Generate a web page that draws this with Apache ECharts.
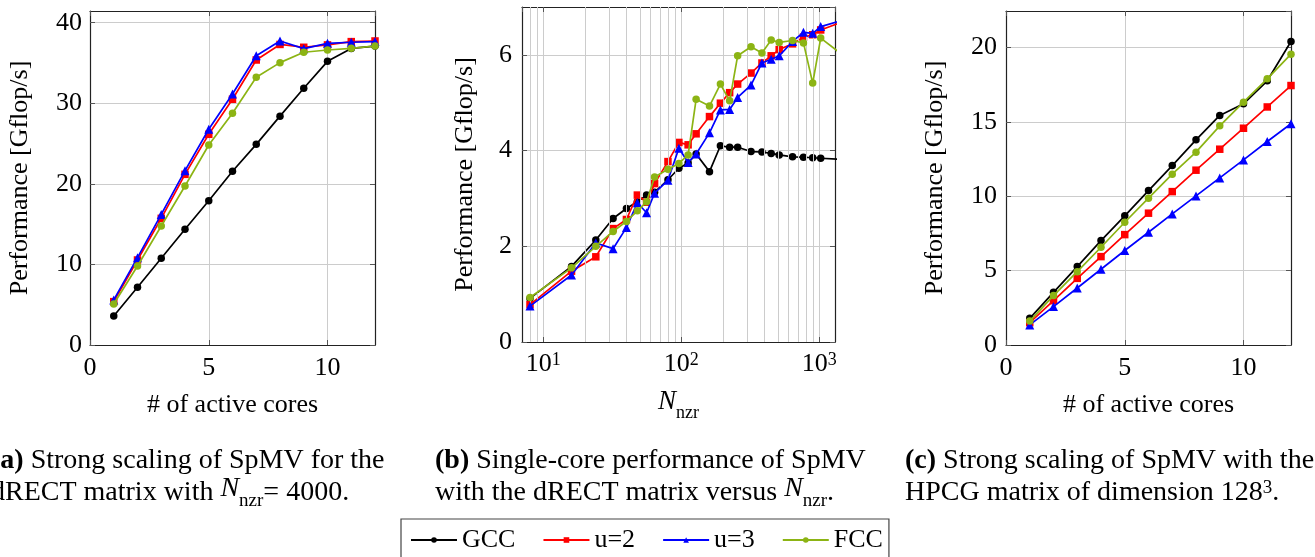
<!DOCTYPE html>
<html><head><meta charset="utf-8">
<script src="https://cdn.jsdelivr.net/npm/echarts@6/dist/echarts.min.js"></script>
<style>html,body{margin:0;padding:0;background:#fff;overflow:hidden}#c{width:1315px;height:557px}</style>
</head><body><div id="c"></div>
<script>
// ---------- data ----------
const coresA = [1, 2, 3, 4, 5, 6, 7, 8, 9, 10, 11, 12];
const gccA = [3.6, 7.16, 10.76, 14.36, 17.9, 21.56, 24.9, 28.4, 31.86, 35.2, 36.8, 37.1];
const u2A  = [5.38, 10.55, 15.72, 21.18, 26.15, 30.5, 35.37, 37.3, 36.95, 37.24, 37.65, 37.73];
const u3A  = [5.59, 10.84, 16.2, 21.64, 26.77, 31.15, 35.9, 37.73, 36.78, 37.44, 37.57, 37.65];
const fccA = [5.09, 9.8, 14.77, 19.73, 24.82, 28.75, 33.22, 35.04, 36.33, 36.61, 36.82, 37.11];

const nnzB = [8, 16, 24, 32, 40, 48, 56, 64, 80, 96, 112, 128, 160, 192, 224, 256, 320, 384, 448, 512, 640, 768, 896, 1024, 1536];
const gccB = [0.91, 1.58, 2.13, 2.58, 2.79, 2.93, 3.07, 3.13, 3.39, 3.63, 3.74, 3.93, 3.56, 4.10, 4.07, 4.07, 3.98, 3.97, 3.94, 3.91, 3.87, 3.86, 3.85, 3.84, 3.81];
const u2B  = [0.78, 1.48, 1.78, 2.37, 2.56, 3.07, 2.92, 3.31, 3.77, 4.17, 4.12, 4.35, 4.71, 4.99, 5.21, 5.39, 5.62, 5.83, 5.98, 6.11, 6.23, 6.37, 6.42, 6.52, 6.71];
const u3B  = [0.75, 1.40, 2.07, 1.95, 2.39, 2.91, 2.70, 3.11, 3.38, 4.05, 3.75, 3.93, 4.37, 4.85, 4.86, 5.11, 5.37, 5.83, 5.91, 5.98, 6.28, 6.47, 6.45, 6.59, 6.74];
const fccB = [0.93, 1.55, 2.00, 2.31, 2.52, 2.74, 2.93, 3.45, 3.61, 3.73, 3.91, 5.07, 4.93, 5.39, 5.04, 5.98, 6.17, 6.04, 6.31, 6.26, 6.30, 6.25, 5.41, 6.35, 5.96];

const coresC = [1, 2, 3, 4, 5, 6, 7, 8, 9, 10, 11, 12];
const gccC = [1.79, 3.54, 5.27, 7.02, 8.68, 10.38, 12.06, 13.79, 15.43, 16.21, 17.76, 20.4];
const u2C  = [1.5, 2.98, 4.48, 5.94, 7.42, 8.86, 10.31, 11.75, 13.16, 14.57, 16.0, 17.44];
const u3C  = [1.35, 2.58, 3.83, 5.09, 6.35, 7.58, 8.81, 10.02, 11.23, 12.44, 13.68, 14.87];
const fccC = [1.61, 3.32, 4.93, 6.57, 8.25, 9.87, 11.48, 12.96, 14.73, 16.32, 17.89, 19.55];

const seriesNames = ['GCC', 'u=2', 'u=3', 'FCC'];
const yTitle = 'Performance [Gflop/s]';
const xTitleCores = '# of active cores';

// ---------- styling ----------
const FONT = 'Liberation Serif';
const FS = 26;
const CFS = 28;
const gridColor = '#cccccc';
const frameColor = '#222222';
const tickColor = '#555555';
const colors = ['#000000', '#ff0000', '#0000ff', '#8cb414'];
const symbols = ['circle', 'rect', 'triangle', 'circle'];
const symSizes = [7.5, 7.5, 9, 7.5];

const zip = (xs, ys) => xs.map((x, i) => [x, ys[i]]);

function frameAxis(extra) {
  return Object.assign({
    axisLine: { show: true, onZero: false, lineStyle: { color: frameColor, width: 1.2 } },
    axisTick: { show: true, inside: true, length: 5, lineStyle: { color: tickColor, width: 1 } },
    axisLabel: { show: false },
    splitLine: { show: false }
  }, extra);
}
const labelStyle = { fontFamily: FONT, fontSize: FS, color: '#000' };
const nameStyle = { fontFamily: FONT, fontSize: FS, color: '#000' };

function coresX(grid) {
  return frameAxis({
    type: 'value', gridIndex: grid, position: 'bottom', min: 0, max: 12, interval: 5,
    axisLabel: Object.assign({ show: true, margin: 10, showMaxLabel: false }, labelStyle),
    splitLine: { show: true, lineStyle: { color: gridColor, width: 1 } },
    name: xTitleCores, nameLocation: 'middle', nameGap: 47, nameTextStyle: nameStyle
  });
}
function perfY(grid, max, interval, gap, margin) {
  return frameAxis({
    type: 'value', gridIndex: grid, position: 'left', min: 0, max: max, interval: interval,
    axisLabel: Object.assign({ show: true, margin: margin, showMaxLabel: false }, labelStyle),
    splitLine: { show: true, lineStyle: { color: gridColor, width: 1 } },
    name: yTitle, nameLocation: 'middle', nameGap: gap, nameRotate: 90, nameTextStyle: nameStyle
  });
}

const xAxes = [
  coresX(0),
  frameAxis({
    type: 'log', logBase: 10, gridIndex: 1, position: 'bottom', min: 7, max: 1300, splitNumber: 2,
    axisLabel: {
      show: true, margin: 9, showMinLabel: false, showMaxLabel: false,
      formatter: v => '{m|10}{e|' + Math.round(Math.log10(v)) + '}',
      rich: {
        m: { fontFamily: FONT, fontSize: FS, lineHeight: 26, verticalAlign: 'bottom', color: '#000' },
        e: { fontFamily: FONT, fontSize: 18, lineHeight: 18, verticalAlign: 'top', padding: [0, 0, 10, 0], color: '#000' }
      }
    },
    splitLine: { show: true, lineStyle: { color: gridColor, width: 1 } },
    name: '{n|N}{s|nzr}', nameLocation: 'middle', nameGap: 46,
    nameTextStyle: {
      fontFamily: FONT, fontSize: FS, color: '#000',
      rich: {
        n: { fontFamily: FONT, fontSize: 27, fontStyle: 'italic', lineHeight: 34, verticalAlign: 'top', color: '#000' },
        s: { fontFamily: FONT, fontSize: 18, lineHeight: 18, verticalAlign: 'bottom', color: '#000' }
      }
    }
  }),
  coresX(2),
  frameAxis({ type: 'value', gridIndex: 0, position: 'top', min: 0, max: 12, interval: 5 }),
  frameAxis({ type: 'log', logBase: 10, gridIndex: 1, position: 'top', min: 7, max: 1300, splitNumber: 2 }),
  frameAxis({ type: 'value', gridIndex: 2, position: 'top', min: 0, max: 12, interval: 5 })
];
const yAxes = [
  perfY(0, 41.45, 10, 57, 8),
  perfY(1, 7, 2, 44, 10),
  perfY(2, 22.45, 5, 58, 9),
  frameAxis({ type: 'value', gridIndex: 0, position: 'right', min: 0, max: 41.45, interval: 10 }),
  frameAxis({ type: 'value', gridIndex: 1, position: 'right', min: 0, max: 7, interval: 2 }),
  frameAxis({ type: 'value', gridIndex: 2, position: 'right', min: 0, max: 22.45, interval: 5 })
];

// minor log grid lines (2..9 x 10^k) for panel (b)
const minorB = [];
for (let d = 1; d <= 100; d *= 10) for (let m = 2; m <= 9; m++) { const v = m * d; if (v > 7 && v < 1300) minorB.push(v); }

const panels = [
  { xs: coresA, ys: [gccA, u2A, u3A, fccA] },
  { xs: nnzB, ys: [gccB, u2B, u3B, fccB] },
  { xs: coresC, ys: [gccC, u2C, u3C, fccC] }
];
const series = [{
  type: 'line', xAxisIndex: 1, yAxisIndex: 1, data: [], silent: true, z: 1,
  markLine: {
    silent: true, symbol: ['none', 'none'], label: { show: false },
    lineStyle: { color: gridColor, width: 1, type: 'solid' },
    emphasis: { disabled: true },
    data: minorB.map(v => ({ xAxis: v }))
  }
}];
panels.forEach((p, pi) => {
  p.ys.forEach((ys, si) => {
    series.push({
      type: 'line', name: seriesNames[si], xAxisIndex: pi, yAxisIndex: pi,
      data: zip(p.xs, ys), clip: true,
      symbol: symbols[si], symbolSize: symSizes[si], showSymbol: true, showAllSymbol: true,
      lineStyle: { color: colors[si], width: 1.7 },
      itemStyle: { color: colors[si], borderWidth: 0 },
      emphasis: { disabled: true }, z: 3 + si
    });
  });
});

const cap = {
  b: { fontFamily: FONT, fontSize: CFS, fontWeight: 'bold', fill: '#000' },
  n: { fontFamily: FONT, fontSize: CFS, fontStyle: 'italic', lineHeight: 36, verticalAlign: 'top', fill: '#000' },
  s: { fontFamily: FONT, fontSize: 19, lineHeight: 19, verticalAlign: 'bottom', fill: '#000' },
  p: { fontFamily: FONT, fontSize: 19, lineHeight: 19, verticalAlign: 'top', padding: [0, 0, 11, 0], fill: '#000' }
};
function capText(x, y, text) {
  return {
    type: 'text', x: x, y: y, silent: true,
    style: { text: text, fontFamily: FONT, fontSize: CFS, fill: '#000', align: 'left', verticalAlign: 'middle', rich: cap }
  };
}

const option = {
  animation: false,
  backgroundColor: '#ffffff',
  grid: [
    { left: 90, top: 11, width: 285, height: 334, containLabel: false, outerBoundsMode: 'none' },
    { left: 522, top: 7, width: 313, height: 335, containLabel: false, outerBoundsMode: 'none' },
    { left: 1006, top: 11, width: 285, height: 334, containLabel: false, outerBoundsMode: 'none' }
  ],
  xAxis: xAxes,
  yAxis: yAxes,
  legend: {
    show: true, left: 401, top: 519, orient: 'horizontal', data: seriesNames,
    itemWidth: 46, itemHeight: 7, itemGap: 27, padding: [8, 6, 14, 9],
    borderColor: '#444', borderWidth: 1.2, borderRadius: 0, backgroundColor: '#fff',
    textStyle: { fontFamily: FONT, fontSize: FS, color: '#000' },
    selectedMode: false
  },
  graphic: [
    capText(-9, 461, '{b|(a)} Strong scaling of SpMV for the'),
    capText(-9, 493, 'dRECT matrix with {n|N}{s|nzr}= 4000.'),
    capText(435, 461, '{b|(b)} Single-core performance of SpMV'),
    capText(435, 493, 'with the dRECT matrix versus {n|N}{s|nzr}.'),
    capText(905, 461, '{b|(c)} Strong scaling of SpMV with the'),
    capText(905, 493, 'HPCG matrix of dimension 128{p|3}.')
  ],
  series: series
};
const chart = echarts.init(document.getElementById('c'), null, { renderer: 'canvas' });
chart.setOption(option);
</script>
</body></html>
